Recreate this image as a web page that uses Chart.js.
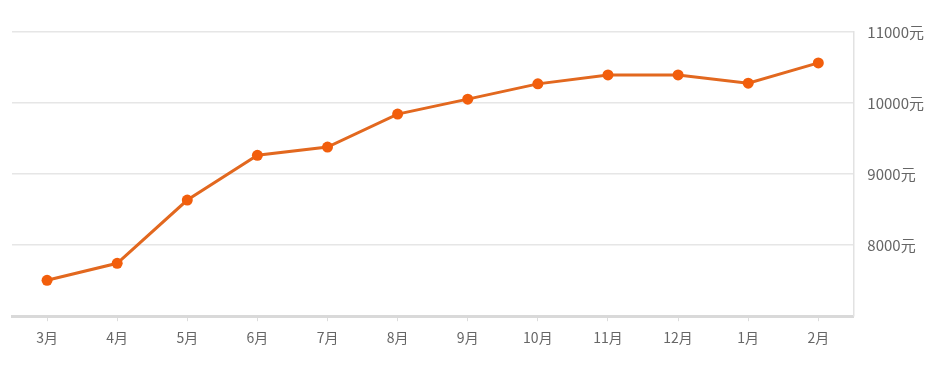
<!DOCTYPE html>
<html>
<head>
<meta charset="utf-8">
<script src="https://cdn.jsdelivr.net/npm/chart.js@4"></script>
<style>
  html, body { margin: 0; padding: 0; background: #fff; }
  #wrap { width: 941px; height: 367px; }
</style>
</head>
<body>
<div id="wrap"><canvas id="price-chart" width="941" height="367"></canvas></div>
<script>
const MONTHS = ['3月', '4月', '5月', '6月', '7月', '8月', '9月', '10月', '11月', '12月', '1月', '2月'];
const PRICES = [7505, 7745, 8635, 9265, 9380, 9845, 10055, 10270, 10395, 10395, 10280, 10565];
const Y_TICKS = [7000, 8000, 9000, 10000, 11000];

const LINE_COLOR = '#e2681f';
const POINT_COLOR = '#f25e0c';
const LABEL_COLOR = '#666';
const FONT = '"Noto Sans CJK SC", "Noto Sans", sans-serif';

const ctx = document.getElementById('price-chart');
window.priceChart = new Chart(ctx, {
  type: 'line',
  data: {
    labels: MONTHS,
    datasets: [{
      label: '均价',
      data: PRICES,
      borderColor: LINE_COLOR,
      backgroundColor: POINT_COLOR,
      borderWidth: 3,
      pointRadius: 5.5,
      pointBorderWidth: 0,
      pointBackgroundColor: POINT_COLOR,
      tension: 0,
    }],
  },
  options: {
    responsive: false,
    animation: false,
    layout: { padding: { left: 12, right: 3, top: 32, bottom: 13 } },
    scales: {
      x: {
        offset: true,
        grid: {
          offset: false,
          drawOnChartArea: false,
          drawTicks: true,
          tickLength: 5,
          color: '#dcdcdc',
        },
        border: { display: true, color: '#d9d9d9', width: 3 },
        ticks: { color: LABEL_COLOR, font: { family: FONT, size: 14 }, padding: 8 },
      },
      y: {
        position: 'right',
        min: Y_TICKS[0],
        max: Y_TICKS[Y_TICKS.length - 1],
        afterBuildTicks(scale) {
          scale.ticks = Y_TICKS.map((v) => ({ value: v }));
        },
        grid: { color: '#e6e6e6', lineWidth: 1.5, drawTicks: false },
        border: { display: true, color: '#e2e2e2', width: 1.5 },
        ticks: {
          color: LABEL_COLOR,
          font: { family: FONT, size: 15 },
          padding: 14,
          callback: (v) => (v === Y_TICKS[0] ? '' : `${v}元`),
        },
      },
    },
    plugins: {
      legend: { display: false },
      tooltip: { enabled: false },
    },
  },
});
</script>
</body>
</html>
